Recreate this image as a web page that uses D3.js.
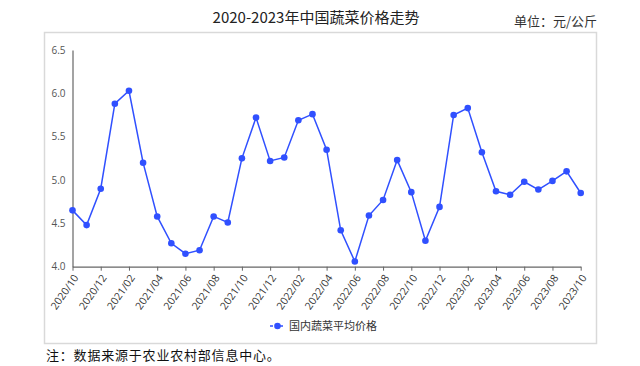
<!DOCTYPE html>
<html>
<head>
<meta charset="utf-8">
<script src="https://cdn.jsdelivr.net/npm/d3@7"></script>
<style>
  body { margin: 0; background: #fff; }
  svg { display: block; }
</style>
</head>
<body>
<div id="chart"></div>
<script>
// monthly average vegetable price, yuan/kg
const months = [
  "2020/10", "2020/11", "2020/12",
  "2021/01", "2021/02", "2021/03", "2021/04", "2021/05", "2021/06",
  "2021/07", "2021/08", "2021/09", "2021/10", "2021/11", "2021/12",
  "2022/01", "2022/02", "2022/03", "2022/04", "2022/05", "2022/06",
  "2022/07", "2022/08", "2022/09", "2022/10", "2022/11", "2022/12",
  "2023/01", "2023/02", "2023/03", "2023/04", "2023/05", "2023/06",
  "2023/07", "2023/08", "2023/09", "2023/10"
];
const prices = [
  4.65, 4.48, 4.90,
  5.88, 6.03, 5.20, 4.58, 4.27, 4.15,
  4.19, 4.58, 4.51, 5.25, 5.72, 5.22,
  5.26, 5.69, 5.76, 5.35, 4.42, 4.06,
  4.59, 4.77, 5.23, 4.86, 4.30, 4.69,
  5.75, 5.83, 5.32, 4.87, 4.83, 4.98,
  4.89, 4.99, 5.10, 4.85
];
const yTicks = [4.0, 4.5, 5.0, 5.5, 6.0, 6.5];
const seriesName = "国内蔬菜平均价格";

const width = 640, height = 366;
const lineColor = "#3050ff";
const axisColor = "#666";
const cjk = "'Noto Sans CJK SC', 'Noto Sans', sans-serif";

const svg = d3.select("#chart").append("svg")
    .attr("width", width)
    .attr("height", height)
    .attr("font-family", cjk);

// frame around the plot
svg.append("rect")
    .attr("x", 44.5).attr("y", 32.5)
    .attr("width", 552).attr("height", 311)
    .attr("fill", "none")
    .attr("stroke", "#d9d9d9")
    .attr("stroke-width", 1.5);

svg.append("text")
    .attr("x", 316).attr("y", 18)
    .attr("dy", "0.35em")
    .attr("text-anchor", "middle")
    .attr("font-size", 15)
    .attr("font-weight", 400)
    .attr("fill", "#222")
    .text("2020-2023年中国蔬菜价格走势");

svg.append("text")
    .attr("x", 597).attr("y", 21)
    .attr("dy", "0.35em")
    .attr("text-anchor", "end")
    .attr("font-size", 13)
    .attr("fill", "#333")
    .text("单位：元/公斤");

const x = d3.scaleLinear().domain([0, months.length - 1]).range([72.5, 580.7]);
const y = d3.scaleLinear().domain([4, 6.5]).range([266.7, 50]);

// y axis: line + labels, no tick marks
const yAxis = svg.append("g")
    .attr("transform", `translate(${x(0)},0)`)
    .call(d3.axisLeft(y).tickValues(yTicks).tickFormat(d3.format(".1f")).tickSize(0).tickPadding(7));
yAxis.select(".domain").attr("stroke", axisColor).attr("stroke-width", 1.2);
yAxis.selectAll("text")
    .attr("font-family", "'Open Sans', 'Noto Sans', sans-serif")
    .attr("font-size", 10)
    .attr("fill", "#555");

// x axis: ticks every two months
const tickIdx = months.map((m, i) => i).filter(i => i % 2 === 0);
const xAxis = svg.append("g")
    .attr("transform", `translate(0,${y(4)})`)
    .call(d3.axisBottom(x).tickValues(tickIdx).tickFormat(i => months[i]).tickSize(4).tickSizeOuter(0));
xAxis.select(".domain").attr("stroke", axisColor).attr("stroke-width", 1.2);
xAxis.selectAll(".tick line").attr("stroke", axisColor);
xAxis.selectAll("text")
    .attr("font-family", "'Open Sans', 'Noto Sans', sans-serif")
    .attr("font-size", 10.5)
    .attr("fill", "#333")
    .attr("text-anchor", "end")
    .attr("y", 0)
    .attr("dy", "0.35em")
    .attr("transform", "translate(3,9) rotate(-55)");

// series
const line = d3.line()
    .x((d, i) => x(i))
    .y(d => y(d));

svg.append("path")
    .datum(prices)
    .attr("fill", "none")
    .attr("stroke", lineColor)
    .attr("stroke-width", 1.5)
    .attr("d", line);

svg.append("g")
    .selectAll("circle")
    .data(prices)
    .join("circle")
    .attr("cx", (d, i) => x(i))
    .attr("cy", d => y(d))
    .attr("r", 3.3)
    .attr("fill", lineColor);

// legend
const legend = svg.append("g").attr("transform", "translate(270,326)");
legend.append("line")
    .attr("x1", 0).attr("x2", 15)
    .attr("stroke", lineColor)
    .attr("stroke-width", 1.5)
    .attr("stroke-dasharray", "3,2");
legend.append("circle")
    .attr("cx", 7.5).attr("r", 3.3)
    .attr("fill", lineColor);
legend.append("text")
    .attr("x", 19)
    .attr("dy", "0.35em")
    .attr("font-size", 11)
    .attr("fill", "#333")
    .text(seriesName);

// source note
svg.append("text")
    .attr("x", 46).attr("y", 355)
    .attr("dy", "0.35em")
    .attr("font-size", 13)
    .attr("letter-spacing", 0.8)
    .attr("fill", "#111")
    .text("注：数据来源于农业农村部信息中心。");
</script>
</body>
</html>
